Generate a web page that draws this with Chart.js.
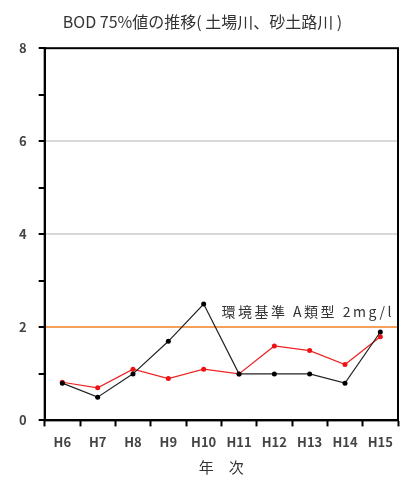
<!DOCTYPE html>
<html><head><meta charset="utf-8">
<script src="https://cdn.jsdelivr.net/npm/chart.js@4/dist/chart.umd.min.js"></script>
<style>html,body{margin:0;padding:0;background:#fff}#wrap{width:402px;height:483px}</style>
</head><body><div id="wrap"><canvas id="c" width="402" height="483"></canvas></div>
<script>
const categories = ["H6","H7","H8","H9","H10","H11","H12","H13","H14","H15"];
const dobaGawa = [0.8,0.5,1.0,1.7,2.5,1.0,1.0,1.0,0.8,1.9];
const sunadoroGawa = [0.82,0.7,1.1,0.9,1.1,1.0,1.6,1.5,1.2,1.8];
const yTicks = [0,2,4,6,8];
const standardValue = 2;
const standardLabel = "環境基準 A類型 2mg/l";
const FONT = "'Noto Sans CJK JP','Noto Sans',sans-serif";

const framePlugin = {
  id:'frame',
  afterDraw(chart){
    const {ctx, chartArea:a, scales:{y}} = chart;
    ctx.save();
    ctx.strokeStyle='#000'; ctx.lineWidth=2;
    ctx.strokeRect(a.left, a.top, a.right-a.left, a.bottom-a.top);
    ctx.fillStyle='#333';
    ctx.font = "14px "+FONT;
    try{ ctx.letterSpacing='2.5px'; }catch(e){}
    ctx.textAlign='right'; ctx.textBaseline='bottom';
    ctx.fillText(standardLabel, a.right-4, y.getPixelForValue(standardValue)-9);
    ctx.restore();
  }
};

new Chart(document.getElementById('c'), {
  type:'line',
  data:{labels:categories, datasets:[
    {data:dobaGawa, borderColor:'#222', backgroundColor:'#000', borderWidth:1.2, pointRadius:2.5, pointBorderWidth:0, tension:0},
    {data:sunadoroGawa, borderColor:'#ee2222', backgroundColor:'#ee1111', borderWidth:1.2, pointRadius:2.5, pointBorderWidth:0, tension:0}
  ]},
  options:{
    responsive:false, animation:false,
    layout:{padding:{left:7,right:4,top:0,bottom:5}},
    plugins:{
      legend:{display:false}, tooltip:{enabled:false},
      title:{display:true, text:"BOD 75%値の推移( 土場川、砂土路川 )", color:'#333', font:{family:FONT,size:16,weight:'normal'}, padding:{top:12,bottom:17}}
    },
    scales:{
      x:{offset:true,
        grid:{offset:true, color:'transparent', tickColor:'#000', tickLength:6, tickWidth:2, drawOnChartArea:false},
        border:{color:'#000',width:2},
        ticks:{color:'#444', font:{family:FONT,size:13,weight:'bold'}, padding:8, maxRotation:0, autoSkip:false},
        title:{display:true, text:'年　次', color:'#333', font:{family:FONT,size:15}, padding:{top:0,bottom:2}}
      },
      y:{min:0,max:8,
        ticks:{stepSize:1, color:'#444', font:{family:FONT,size:13,weight:'bold'}, padding:12,
          callback:(v)=> yTicks.includes(v)? String(v):''},
        grid:{tickColor:'#000', tickLength:6, tickWidth:2,
          color:(c)=> c.tick && c.tick.value===standardValue ? '#f5a05a' : (c.tick && (c.tick.value===4||c.tick.value===6) ? '#d8d8d8' : 'transparent'),
          lineWidth:2},
        border:{color:'#000',width:2}
      }
    }
  },
  plugins:[framePlugin]
});
</script></body></html>
